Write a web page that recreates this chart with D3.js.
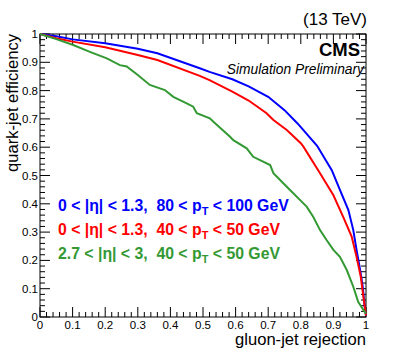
<!DOCTYPE html>
<html>
<head>
<meta charset="utf-8">
<script src="https://cdn.jsdelivr.net/npm/d3@7"></script>
<style>
  body { margin: 0; background: #fff; }
  svg { display: block; font-family: "Liberation Sans", Arial, sans-serif; }
</style>
</head>
<body>
<svg id="chart" width="407" height="354"></svg>
<script>
// gluon-jet rejection (x) vs quark-jet efficiency (y)
var blueX = [0, 0.05, 0.10, 0.20, 0.30, 0.36, 0.49, 0.52, 0.59, 0.64, 0.70, 0.75, 0.79, 0.85, 0.895, 0.92, 0.946, 0.961, 0.971, 0.982, 0.99, 0.997, 1];
var blueY = [1, 0.992, 0.981, 0.967, 0.948, 0.932, 0.879, 0.866, 0.840, 0.815, 0.778, 0.731, 0.684, 0.605, 0.519, 0.449, 0.378, 0.307, 0.237, 0.166, 0.107, 0.025, 0.005];

var redX = [0, 0.05, 0.10, 0.20, 0.30, 0.36, 0.49, 0.52, 0.59, 0.64, 0.695, 0.716, 0.757, 0.80, 0.808, 0.859, 0.90, 0.93, 0.956, 0.971, 0.984, 0.992, 1];
var redY = [1, 0.985, 0.973, 0.953, 0.926, 0.908, 0.852, 0.837, 0.796, 0.765, 0.72, 0.696, 0.661, 0.614, 0.602, 0.508, 0.43, 0.354, 0.284, 0.213, 0.142, 0.072, 0.005];

var greenX = [0, 0.05, 0.102, 0.153, 0.205, 0.245, 0.266, 0.30, 0.337, 0.383, 0.409, 0.45, 0.47, 0.481, 0.521, 0.532, 0.583, 0.593, 0.634, 0.654, 0.706, 0.716, 0.757, 0.798, 0.818, 0.838, 0.859, 0.879, 0.90, 0.92, 0.941, 0.961, 0.976, 0.992, 1];
var greenY = [1, 0.982, 0.961, 0.937, 0.914, 0.890, 0.885, 0.855, 0.820, 0.802, 0.778, 0.755, 0.743, 0.72, 0.702, 0.690, 0.637, 0.625, 0.596, 0.566, 0.537, 0.508, 0.46, 0.413, 0.39, 0.354, 0.307, 0.272, 0.237, 0.213, 0.166, 0.107, 0.054, 0.025, 0.012];

var seriesColors = ["#0000ff", "#ff0000", "#339933"];
var ticks = [0, 0.1, 0.2, 0.3, 0.4, 0.5, 0.6, 0.7, 0.8, 0.9, 1];
var minorTicks = d3.range(0, 1.0001, 0.02);

var svg = d3.select("#chart");
var mLeft = 40, mRight = 366, mTop = 34, mBottom = 317;

var x = d3.scaleLinear().domain([0, 1]).range([mLeft, mRight]);
var y = d3.scaleLinear().domain([0, 1]).range([mBottom, mTop]);

// frame
svg.append("rect")
    .attr("x", mLeft).attr("y", mTop)
    .attr("width", mRight - mLeft).attr("height", mBottom - mTop)
    .attr("fill", "none").attr("stroke", "#000").attr("stroke-width", 1);

var tk = svg.append("g").attr("stroke", "#000").attr("stroke-width", 1);
minorTicks.forEach(function(v) {
    var major = ticks.some(function(t) { return Math.abs(t - v) < 1e-6; });
    var len = major ? 10 : 5;
    // bottom & top
    tk.append("line").attr("x1", x(v)).attr("x2", x(v)).attr("y1", mBottom).attr("y2", mBottom - len);
    tk.append("line").attr("x1", x(v)).attr("x2", x(v)).attr("y1", mTop).attr("y2", mTop + len);
    // left & right
    tk.append("line").attr("y1", y(v)).attr("y2", y(v)).attr("x1", mLeft).attr("x2", mLeft + len);
    tk.append("line").attr("y1", y(v)).attr("y2", y(v)).attr("x1", mRight).attr("x2", mRight - len);
});

var fmt = d => String(+d.toFixed(1));
svg.append("g").selectAll("text").data(ticks).enter().append("text")
    .attr("x", d => x(d)).attr("y", mBottom + 12)
    .attr("text-anchor", "middle").attr("font-size", 11.5)
    .text(fmt);

svg.append("g").selectAll("text").data(ticks).enter().append("text")
    .attr("x", mLeft - 2).attr("y", d => d === 0 ? y(d) + 3.5 : y(d) + 4)
    .attr("text-anchor", "end").attr("font-size", 11.5)
    .text(fmt);

// axis titles
svg.append("text")
    .attr("x", mRight).attr("y", 345)
    .attr("text-anchor", "end").attr("font-size", 16.6)
    .text("gluon-jet rejection");

svg.append("text")
    .attr("transform", "translate(18," + mTop + ") rotate(-90)")
    .attr("text-anchor", "end").attr("font-size", 16.6)
    .text("quark-jet efficiency");

// curves
var line = d3.line().x(d => x(d[0])).y(d => y(d[1]));
[[blueX, blueY], [redX, redY], [greenX, greenY]].forEach(function(s, i) {
    svg.append("path")
        .datum(d3.zip(s[0], s[1]))
        .attr("d", line)
        .attr("fill", "none")
        .attr("stroke", seriesColors[i])
        .attr("stroke-width", 2);
});

// headers
svg.append("text").attr("x", 367).attr("y", 25)
    .attr("text-anchor", "end").attr("font-size", 17).text("(13 TeV)");
svg.append("text").attr("x", 360).attr("y", 56)
    .attr("text-anchor", "end").attr("font-size", 18.5).attr("font-weight", "bold").text("CMS");
svg.append("text").attr("x", 364).attr("y", 74)
    .attr("text-anchor", "end").attr("font-size", 13.8).attr("font-style", "italic").text("Simulation Preliminary");

// legend
var legend = [
    ["0 < |\u03b7| < 1.3,  80 < p", "T", " < 100 GeV"],
    ["0 < |\u03b7| < 1.3,  40 < p", "T", " < 50 GeV"],
    ["2.7 < |\u03b7| < 3,  40 < p", "T", " < 50 GeV"]
];
legend.forEach(function(l, i) {
    var t = svg.append("text")
        .attr("x", 58).attr("y", 211 + i * 24)
        .attr("font-size", 15.8).attr("font-weight", "bold")
        .attr("fill", seriesColors[i])
        .style("white-space", "pre");
    t.append("tspan").text(l[0]);
    t.append("tspan").attr("dy", 4).attr("font-size", 11).text(l[1]);
    t.append("tspan").attr("dy", -4).text(l[2]);
});
</script>
</body>
</html>
